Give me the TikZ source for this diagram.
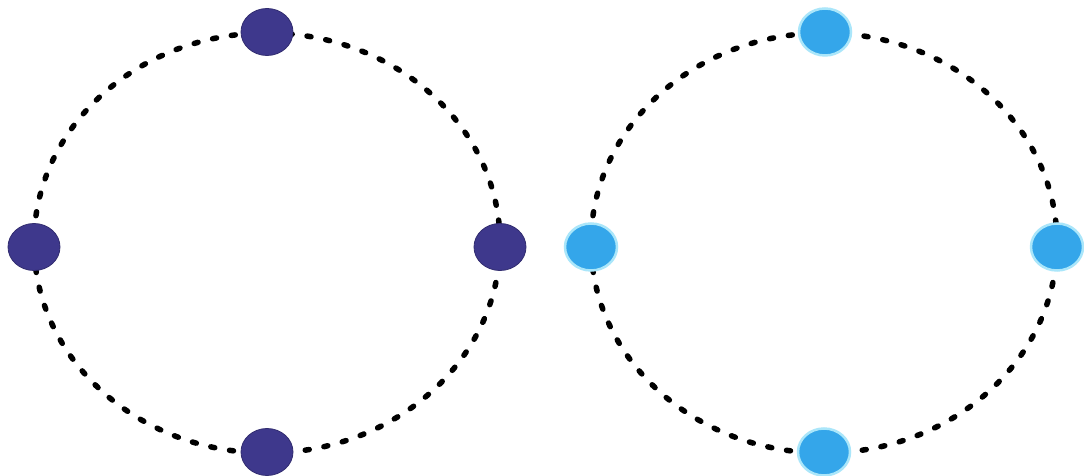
\documentclass[tikz,border=0pt]{standalone}
\usetikzlibrary{shapes.geometric}
\definecolor{navy}{RGB}{62,56,140}
\definecolor{sky}{RGB}{52,166,234}
\definecolor{glow}{RGB}{170,230,250}
\tikzset{
  orbit/.style={draw=black, line width=5.5pt, line cap=round, dash pattern=on 4pt off 15pt},
  darkdot/.style={ellipse, fill=navy, draw=navy!80!black, line width=0.8pt, minimum width=52pt, minimum height=47pt, inner sep=0pt},
  lightdot/.style={ellipse, fill=sky, draw=glow, line width=2.5pt, minimum width=52pt, minimum height=47pt, inner sep=0pt}
}
\begin{document}
\begin{tikzpicture}[x=1pt,y=1pt]
\useasboundingbox (0,0) rectangle (1084,476);
\fill[white] (0,0) rectangle (1084,476);
% left orbit
\coordinate (cl) at (267,233);
\draw[orbit] (cl) ellipse [x radius=233, y radius=210];
\node[darkdot] (lt) at (267,444) {};
\node[darkdot] (lb) at (267,24) {};
\node[darkdot] (ll) at (34,229) {};
\node[darkdot] (lr) at (500,229) {};
% right orbit
\coordinate (cr) at (824,233);
\draw[orbit] (cr) ellipse [x radius=233, y radius=210];
\node[lightdot] (rt) at (825,444) {};
\node[lightdot] (rb) at (824,24) {};
\node[lightdot] (rl) at (591,229) {};
\node[lightdot] (rr) at (1057,229) {};
\end{tikzpicture}
\end{document}
